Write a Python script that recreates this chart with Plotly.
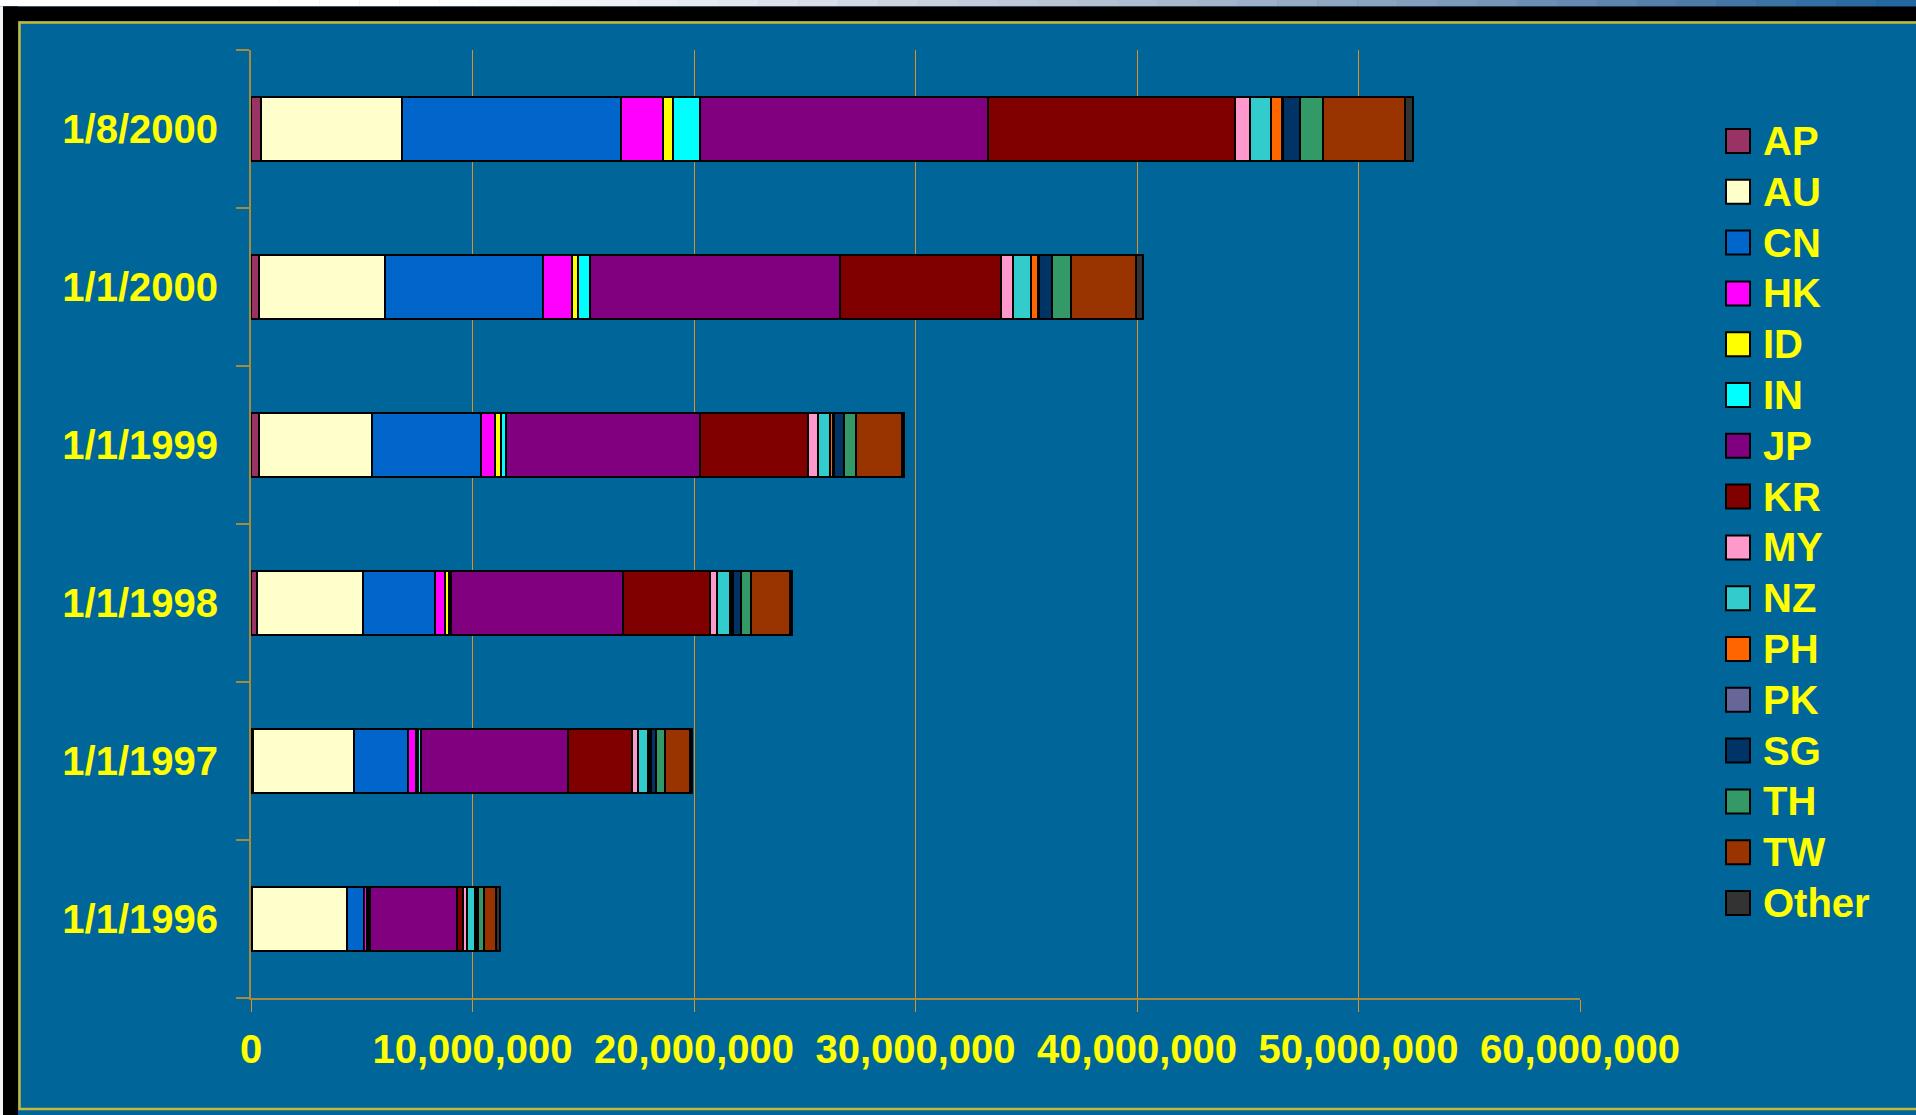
import plotly.graph_objects as go

# ---------------- data (values in millions) ----------------
categories = ["1/1/1996", "1/1/1997", "1/1/1998", "1/1/1999", "1/1/2000", "1/8/2000"]
series_names = ["AP", "AU", "CN", "HK", "ID", "IN", "JP", "KR", "MY", "NZ",
                "PH", "PK", "SG", "TH", "TW", "Other"]

AP    = [0.05, 0.10, 0.29, 0.38, 0.35, 0.47]
AU    = [4.29, 4.56, 4.75, 5.06, 5.72, 6.36]
CN    = [0.75, 2.41, 3.28, 4.95, 7.10, 9.89]
HK    = [0.15, 0.37, 0.46, 0.62, 1.31, 1.88]
ID    = [0.07, 0.10, 0.14, 0.29, 0.29, 0.47]
IN    = [0.08, 0.13, 0.10, 0.19, 0.55, 1.22]
JP    = [3.89, 6.62, 7.76, 8.79, 11.26, 12.97]
KR    = [0.27, 2.90, 3.92, 4.85, 7.26, 11.18]
MY    = [0.18, 0.27, 0.36, 0.46, 0.54, 0.66]
NZ    = [0.40, 0.46, 0.57, 0.56, 0.85, 0.94]
PH    = [0.05, 0.08, 0.08, 0.12, 0.28, 0.49]
PK    = [0.02, 0.05, 0.04, 0.03, 0.08, 0.07]
SG    = [0.05, 0.25, 0.38, 0.45, 0.58, 0.76]
TH    = [0.27, 0.38, 0.45, 0.57, 0.85, 1.04]
TW    = [0.54, 1.12, 1.76, 2.06, 2.94, 3.68]
Other = [0.19, 0.12, 0.10, 0.11, 0.29, 0.37]

series_values = [AP, AU, CN, HK, ID, IN, JP, KR, MY, NZ, PH, PK, SG, TH, TW, Other]
x_tick_values = [0, 10e6, 20e6, 30e6, 40e6, 50e6, 60e6]
x_tick_labels = ["0", "10,000,000", "20,000,000", "30,000,000",
                 "40,000,000", "50,000,000", "60,000,000"]

colors = ["#993366", "#FFFFCC", "#0066CC", "#FF00FF", "#FFFF00", "#00FFFF",
          "#800080", "#800000", "#FF99CC", "#33CCCC", "#FF6600", "#666699",
          "#003366", "#339966", "#993300", "#333333"]

# ---------------- geometry ----------------
W, H = 1916, 1115
L, R, T, B = 251, 336, 50, 117
PW, PH_ = W - L - R, H - T - B
BG = "#006699"
YEL = "#FFFF00"
FONT = "Liberation Sans, Arial, sans-serif"


def px(x):
    return (x - L) / PW


def py(y):
    return (H - B - y) / PH_


fig = go.Figure()
for name, vals, col in zip(series_names, series_values, colors):
    fig.add_trace(go.Bar(
        y=categories, x=[v * 1e6 for v in vals], name=name, orientation="h",
        marker=dict(color=col, line=dict(color="#000000", width=2)),
        showlegend=False,
    ))

shapes = []
# top gradient strip (decoration)
grad_stops = [(0, (255, 255, 255)), (430, (255, 255, 255)), (735, (226, 230, 238)),
              (980, (196, 204, 219)), (1226, (162, 180, 201)), (1471, (123, 152, 185)),
              (1716, (74, 120, 166)), (1916, (31, 102, 160))]


def grad_col(x):
    for (xa, ca), (xb, cb) in zip(grad_stops[:-1], grad_stops[1:]):
        if xa <= x <= xb:
            t = (x - xa) / (xb - xa)
            c = [round(a + (b - a) * t) for a, b in zip(ca, cb)]
            return "rgb(%d,%d,%d)" % tuple(c)
    return "rgb(31,102,160)"


nseg = 48
for i in range(nseg):
    xa, xb = W * i / nseg, W * (i + 1) / nseg
    shapes.append(dict(type="rect", xref="paper", yref="paper", layer="below",
                       x0=px(xa), x1=px(xb + 0.5), y0=py(0), y1=py(6.5),
                       fillcolor=grad_col((xa + xb) / 2), line=dict(width=0)))
# left white edge
shapes.append(dict(type="rect", xref="paper", yref="paper", layer="below",
                   x0=px(0), x1=px(3), y0=py(6.5), y1=py(H),
                   fillcolor="#f2f3f5", line=dict(width=0)))
# black frame bands
shapes.append(dict(type="rect", xref="paper", yref="paper", layer="below",
                   x0=px(3), x1=px(W), y0=py(6.5), y1=py(21),
                   fillcolor="#000000", line=dict(width=0)))
shapes.append(dict(type="rect", xref="paper", yref="paper", layer="below",
                   x0=px(3), x1=px(18), y0=py(6.5), y1=py(H),
                   fillcolor="#000000", line=dict(width=0)))
# yellow inner frame
shapes.append(dict(type="rect", xref="paper", yref="paper", layer="below",
                   x0=px(19.5), x1=px(W + 5), y0=py(22.5), y1=py(1109),
                   fillcolor="rgba(0,0,0,0)", line=dict(color="#C8B838", width=2.5)))

# manual legend
annotations = []
for i, (name, col) in enumerate(zip(series_names, colors)):
    cy = 141 + 50.8 * i
    shapes.append(dict(type="rect", xref="paper", yref="paper", layer="above",
                       x0=px(1726), x1=px(1750), y0=py(cy - 12), y1=py(cy + 12),
                       fillcolor=col, line=dict(color="#000000", width=2)))
    annotations.append(dict(xref="paper", yref="paper", x=px(1761), y=py(cy),
                            xanchor="left", yanchor="middle", showarrow=False,
                            text=name,
                            font=dict(family=FONT, size=40, color=YEL, weight="bold")))

fig.update_layout(
    width=W, height=H,
    margin=dict(l=L, r=R, t=T, b=B, pad=0),
    paper_bgcolor=BG, plot_bgcolor="rgba(0,0,0,0)",
    barmode="stack", bargap=0.6,
    shapes=shapes, annotations=annotations,
    showlegend=False,
    font=dict(family=FONT, color=YEL, weight="bold"),
)
fig.update_xaxes(
    range=[0, 60e6], tickvals=x_tick_values, ticktext=x_tick_labels,
    showgrid=True, gridcolor="#E0901C", gridwidth=1.3,
    zeroline=False, showline=True, linecolor="#A88A3C", linewidth=2,
    ticks="outside", ticklen=12, tickcolor="#E0901C", tickwidth=1.3,
    tickfont=dict(family=FONT, size=40, color=YEL, weight="bold"),
    ticklabelstandoff=3,
)
fig.update_yaxes(
    type="category", categoryorder="array", categoryarray=categories,
    showgrid=False, zeroline=False, showline=True, linecolor="#A88A3C", linewidth=2,
    ticks="outside", tickson="boundaries", ticklen=13, tickcolor="#A88A3C", tickwidth=2,
    tickfont=dict(family=FONT, size=40, color=YEL, weight="bold"),
    ticklabelstandoff=23,
)

fig.write_html("out.html", config={"displayModeBar": False},
               post_script="document.body.style.margin='0';document.body.style.overflow='hidden';")
